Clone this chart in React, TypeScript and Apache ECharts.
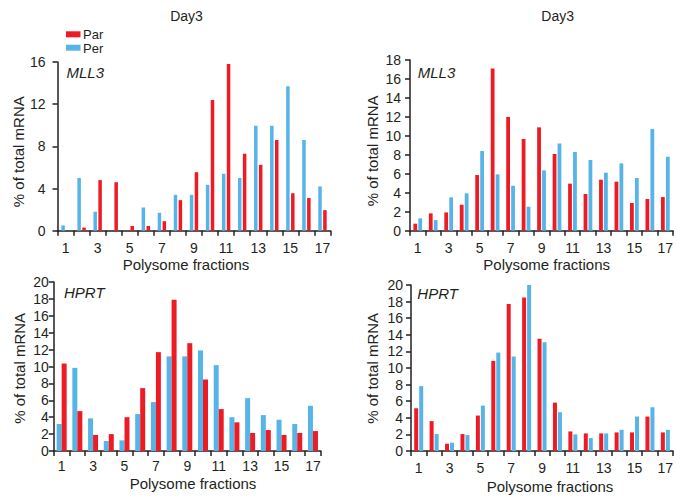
import React, { useEffect, useRef } from "react";
import * as echarts from "echarts";

const categories = ["1","2","3","4","5","6","7","8","9","10","11","12","13","14","15","16","17"];

const mll3LeftPar = [0, 0.3, 4.8, 4.6, 0.45, 0.45, 0.9, 2.9, 5.55, 12.4, 15.8, 7.3, 6.25, 8.6, 3.55, 3.1, 1.95];
const mll3LeftPer = [0.5, 5.0, 1.8, 0, 0, 2.2, 1.7, 3.4, 3.4, 4.35, 5.4, 5.0, 9.95, 9.95, 13.7, 8.6, 4.2];

const mll3RightPar = [0.74, 1.83, 1.93, 2.74, 5.87, 17.1, 12.0, 9.67, 10.9, 8.09, 4.96, 3.87, 5.38, 5.17, 2.92, 3.34, 3.55];
const mll3RightPer = [1.3, 1.12, 3.52, 3.94, 8.4, 5.94, 4.75, 2.53, 6.36, 9.2, 8.3, 7.45, 6.12, 7.1, 5.56, 10.72, 7.8];

const hprtLeftPer = [3.2, 9.84, 3.86, 1.18, 1.26, 4.37, 5.79, 11.2, 11.2, 11.9, 10.16, 4.0, 6.26, 4.25, 3.7, 3.19, 5.35];
const hprtLeftPar = [10.35, 4.72, 1.9, 2.0, 4.0, 7.44, 11.7, 17.9, 12.76, 8.46, 4.96, 3.39, 2.13, 2.48, 1.9, 2.13, 2.36];

const hprtRightPar = [5.15, 3.6, 0.88, 2.04, 4.27, 10.86, 17.7, 18.5, 13.53, 5.83, 2.36, 2.12, 2.12, 2.24, 2.24, 4.15, 2.24];
const hprtRightPer = [7.82, 2.04, 1.0, 1.92, 5.47, 11.86, 11.38, 20.0, 13.1, 4.67, 2.0, 1.56, 2.12, 2.55, 4.15, 5.27, 2.55];

const yMax = [16, 18, 20, 20];
const yInterval = [4, 2, 2, 2];

const RED = "#ed1c24";
const BLUE = "#56b4e9";
const INK = "#231f20";
const FONT = "Liberation Sans, Arial, sans-serif";

export default function App() {
  const ref = useRef<HTMLDivElement>(null);
  useEffect(() => {
    if (!ref.current) return;
    const chart = echarts.init(ref.current, undefined, { renderer: "svg" });

    const grids = [
      { left: 57.5, top: 62, width: 273, height: 168.7 },
      { left: 410, top: 60, width: 267, height: 170.7 },
      { left: 53.8, top: 282, width: 267, height: 169 },
      { left: 411, top: 285, width: 267, height: 166 },
    ];
    const yLabelMargin = [12, 9, 5, 8];
    const xLabelMargin = [10, 10, 8, 10];

    const xAxes = grids.map((_, i) => ({
      type: "category",
      gridIndex: i,
      data: categories,
      boundaryGap: true,
      axisLine: { lineStyle: { color: INK, width: 1.5 } },
      axisTick: { show: true, interval: 0, length: 5, lineStyle: { color: INK, width: 1.5 } },
      axisLabel: { interval: 1, margin: xLabelMargin[i], color: INK, fontSize: 14, fontFamily: FONT },
      splitLine: { show: false },
    }));
    const yAxes = grids.map((_, i) => ({
      type: "value",
      gridIndex: i,
      min: 0,
      max: yMax[i],
      interval: yInterval[i],
      axisLine: { show: true, lineStyle: { color: INK, width: 1.5 } },
      axisTick: { show: true, length: 5, lineStyle: { color: INK, width: 1.5 } },
      axisLabel: { margin: yLabelMargin[i], color: INK, fontSize: 14, fontFamily: FONT },
      splitLine: { show: false },
    }));

    const bar = (name: string, data: number[], idx: number, color: string, width: number, gap: string) => ({
      type: "bar",
      name,
      data,
      xAxisIndex: idx,
      yAxisIndex: idx,
      barWidth: width,
      barGap: gap,
      itemStyle: { color },
    });

    const series = [
      bar("Per", mll3LeftPer, 0, BLUE, 3.5, "40%"),
      bar("Par", mll3LeftPar, 0, RED, 3.5, "40%"),
      bar("Par", mll3RightPar, 1, RED, 3.8, "30%"),
      bar("Per", mll3RightPer, 1, BLUE, 3.8, "30%"),
      bar("Per", hprtLeftPer, 2, BLUE, 5, "0%"),
      bar("Par", hprtLeftPar, 2, RED, 5, "0%"),
      bar("Par", hprtRightPar, 3, RED, 4, "25%"),
      bar("Per", hprtRightPer, 3, BLUE, 4, "25%"),
    ];

    const txt = (x: number, y: number, text: string, opts: any = {}) => ({
      type: "text",
      x,
      y,
      rotation: opts.rotation || 0,
      style: {
        text,
        fill: INK,
        fontSize: opts.fontSize || 15,
        fontFamily: FONT,
        fontStyle: opts.italic ? "italic" : "normal",
        textAlign: opts.align || "center",
        textVerticalAlign: "middle",
      },
    });

    const graphic = [
      txt(186.5, 16, "Day3", { fontSize: 14 }),
      txt(557.7, 16, "Day3", { fontSize: 14 }),
      { type: "rect", shape: { x: 66, y: 31.3, width: 14.5, height: 6 }, style: { fill: RED } },
      { type: "rect", shape: { x: 66, y: 44.7, width: 14.5, height: 6 }, style: { fill: BLUE } },
      txt(83, 34, "Par", { align: "left", fontSize: 13 }),
      txt(83, 48, "Per", { align: "left", fontSize: 13 }),
      txt(66.5, 72, "MLL3", { align: "left", italic: true }),
      txt(417.7, 72, "MLL3", { align: "left", italic: true }),
      txt(64, 292, "HPRT", { align: "left", italic: true }),
      txt(417.3, 293, "HPRT", { align: "left", italic: true }),
      txt(186, 264, "Polysome fractions"),
      txt(546.7, 264, "Polysome fractions"),
      txt(193, 483.3, "Polysome fractions"),
      txt(550, 486.7, "Polysome fractions"),
      txt(18, 151.7, "% of total mRNA", { rotation: Math.PI / 2 }),
      txt(372.7, 150.8, "% of total mRNA", { rotation: Math.PI / 2 }),
      txt(19, 368.3, "% of total mRNA", { rotation: Math.PI / 2 }),
      txt(372, 368.3, "% of total mRNA", { rotation: Math.PI / 2 }),
    ];

    chart.setOption({
      animation: false,
      backgroundColor: "#ffffff",
      textStyle: { fontFamily: FONT },
      grid: grids,
      xAxis: xAxes,
      yAxis: yAxes,
      series,
      graphic,
    } as any);

    return () => chart.dispose();
  }, []);

  return (
    <div
      ref={ref}
      style={{ position: "absolute", left: 0, top: 0, width: 676, height: 497 }}
    />
  );
}
